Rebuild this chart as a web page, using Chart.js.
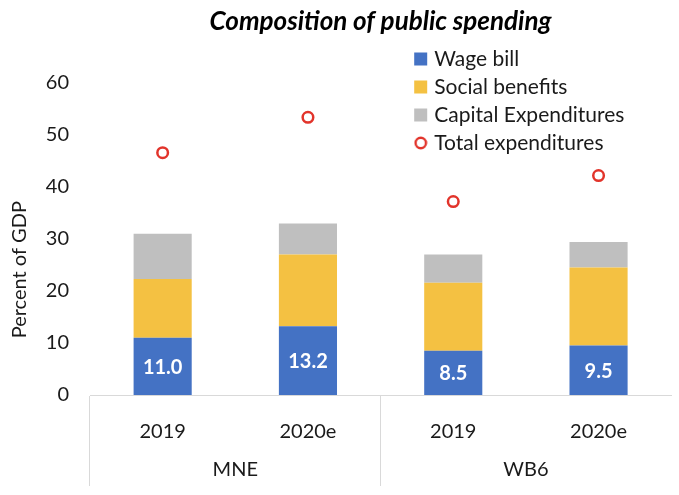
<!DOCTYPE html>
<html><head><meta charset="utf-8">
<script src="https://cdn.jsdelivr.net/npm/chart.js@4"></script>
<style>html,body{margin:0;padding:0;background:#fff}#wrap{width:679px;height:495px;position:relative}</style>
</head><body><div id="wrap"><canvas id="c"></canvas></div>
<script>
const categories = ['2019', '2020e', '2019', '2020e'];
const groups = ['MNE', 'WB6'];
const wageBill = [11.0, 13.2, 8.5, 9.5];
const socialBenefits = [11.3, 13.8, 13.1, 15.0];
const capitalExpenditures = [8.7, 6.0, 5.4, 4.9];
const totalExpenditures = [46.6, 53.4, 37.2, 42.2];
const yTicks = [0, 10, 20, 30, 40, 50, 60];

const BLUE = '#4472C4', GOLD = '#F4C142', GRAY = '#BFBFBF', RED = '#E2342B', TXT = '#1a1a1a';
Chart.defaults.font.family = 'Lato';

const circleImg = document.createElement('canvas');
circleImg.width = 14; circleImg.height = 14;
(function(){const g = circleImg.getContext('2d'); g.beginPath(); g.arc(7, 7, 5.2, 0, Math.PI * 2); g.fillStyle = '#fff'; g.fill(); g.lineWidth = 2.4; g.strokeStyle = RED; g.stroke();})();

const legendPlacer = {
  id: 'legendPlacer',
  afterLayout(chart) {
    const lg = chart.legend, ca = chart.chartArea;
    lg.left = ca.right - 260.5; lg.right = lg.left + 266;
    lg.top = ca.top - 41.5; lg.bottom = lg.top + 130;
    lg.width = lg.right - lg.left; lg.height = lg.bottom - lg.top;
  }
};

const wageLabels = {
  id: 'wageLabels',
  afterDatasetsDraw(chart) {
    const meta = chart.getDatasetMeta(0), ctx = chart.ctx;
    ctx.save();
    ctx.fillStyle = '#fff'; ctx.font = 'bold 20px Lato';
    ctx.textAlign = 'center'; ctx.textBaseline = 'middle';
    meta.data.forEach((el, i) => ctx.fillText(wageBill[i].toFixed(1), el.x, (el.y + el.base) / 2 + 1));
    ctx.restore();
  }
};

new Chart(document.getElementById('c'), {
  type: 'bar',
  data: {
    labels: categories,
    datasets: [
      { label: 'Wage bill', data: wageBill, backgroundColor: BLUE, stack: 'bars', pointStyle: 'rect' },
      { label: 'Social benefits', data: socialBenefits, backgroundColor: GOLD, stack: 'bars', pointStyle: 'rect' },
      { label: 'Capital Expenditures', data: capitalExpenditures, backgroundColor: GRAY, stack: 'bars', pointStyle: 'rect' },
      { type: 'line', label: 'Total expenditures', data: totalExpenditures, showLine: false, stack: 'total',
        borderColor: RED, backgroundColor: '#fff', pointBackgroundColor: '#fff', pointBorderColor: RED,
        pointBorderWidth: 2.5, pointRadius: 5.3, pointHoverRadius: 5.3, pointStyle: 'circle' }
    ]
  },
  options: {
    responsive: true, maintainAspectRatio: false, animation: false, events: [],
    barPercentage: 0.4, categoryPercentage: 1.0,
    layout: { padding: { left: 0, right: 7, top: 0, bottom: 0 } },
    plugins: {
      tooltip: { enabled: false },
      title: { display: true, text: 'Composition of public spending', fullSize: false, color: '#000',
        font: { family: 'Lato', size: 26, weight: 'bold', style: 'italic' }, padding: { top: 6, bottom: 45.8 } },
      legend: {
        position: 'chartArea', align: 'start',
        labels: {
          usePointStyle: true, boxWidth: 6, boxHeight: 13, padding: 7, color: TXT,
          font: { family: 'Lato', size: 21 },
          generateLabels: (chart) => {
            const items = Chart.defaults.plugins.legend.labels.generateLabels(chart);
            items.forEach(it => { it.pointStyle = it.datasetIndex === 3 ? circleImg : 'rect'; if (it.datasetIndex !== 3) it.lineWidth = 0; });
            items.sort((a, b) => a.datasetIndex - b.datasetIndex);
            return items;
          }
        }
      }
    },
    scales: {
      x: {
        stacked: true, weight: 0, offset: true,
        grid: { offset: true, drawOnChartArea: false, drawTicks: true, tickLength: 91, lineWidth: 1,
          color: (c) => (c.index % 2 === 0 ? '#D9D9D9' : 'rgba(0,0,0,0)') },
        border: { display: true, color: '#D9D9D9', width: 1 },
        ticks: { padding: -66, color: TXT, font: { size: 20 }, maxRotation: 0, autoSkip: false },
        afterFit: (s) => { s.height = 50; }
      },
      x2: {
        type: 'category', labels: groups, position: 'bottom', weight: 1, offset: true,
        grid: { display: false, drawTicks: false }, border: { display: false },
        ticks: { padding: 13, color: TXT, font: { size: 20 }, maxRotation: 0 },
        afterFit: (s) => { s.height = 50; }
      },
      y: {
        stacked: true, min: yTicks[0], max: yTicks[yTicks.length - 1],
        ticks: { stepSize: yTicks[1] - yTicks[0], padding: 21, color: TXT, font: { size: 20 } },
        grid: { display: false, drawTicks: false }, border: { display: false },
        title: { display: true, text: 'Percent of GDP            ', color: TXT, font: { size: 20 }, padding: { top: 8, bottom: 0 } },
        afterFit: (s) => { s.width = 90; }
      }
    }
  },
  plugins: [legendPlacer, wageLabels]
});
</script>
</body></html>
